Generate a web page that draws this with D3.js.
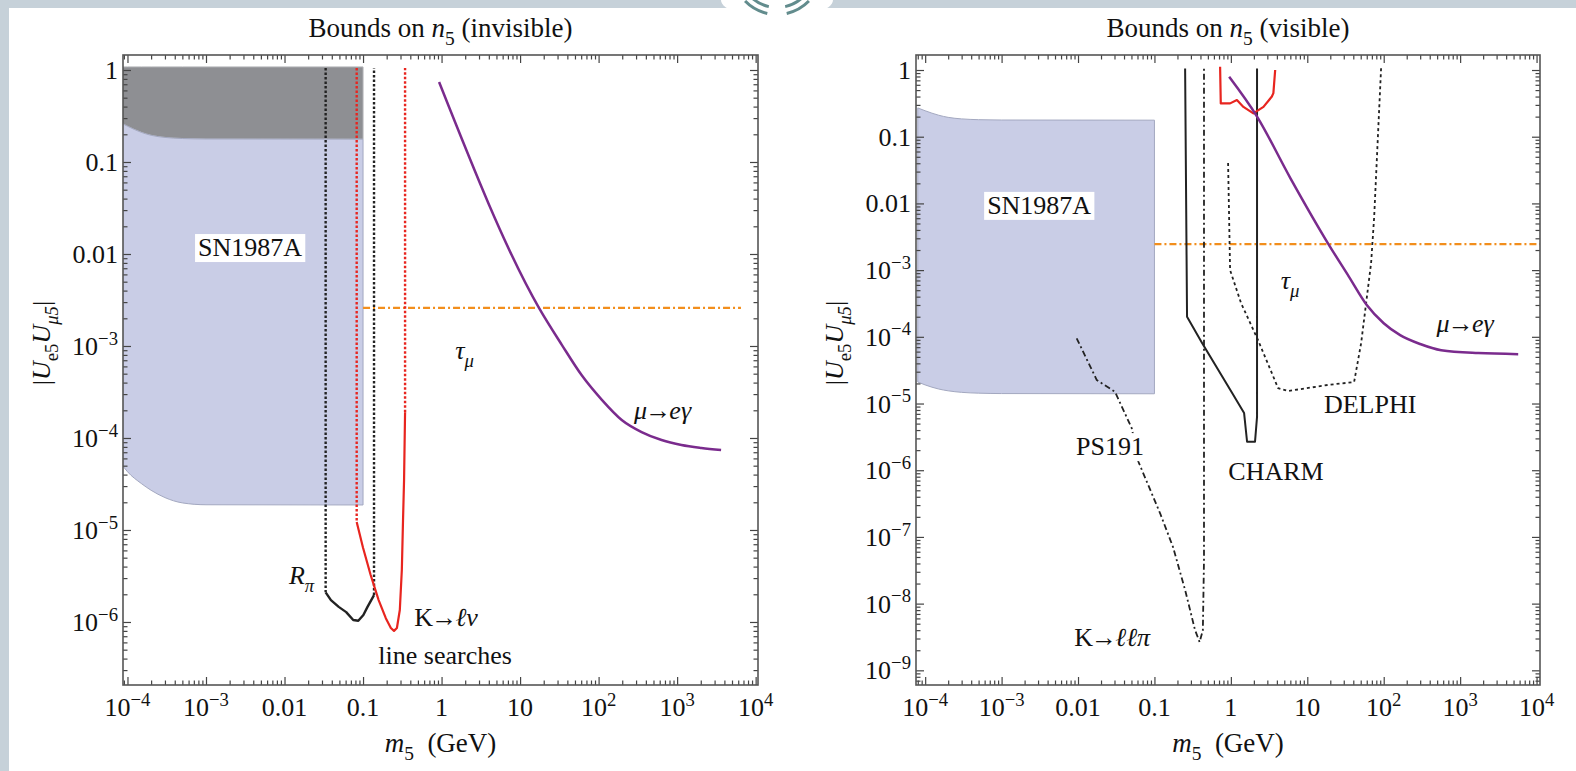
<!DOCTYPE html>
<html>
<head>
<meta charset="utf-8">
<script src="https://cdn.jsdelivr.net/npm/d3@7"></script>
<style>
  body { margin: 0; background: #fff; }
  svg text { font-family: "Liberation Serif", "DejaVu Serif", serif; fill: #111; }
</style>
</head>
<body>
<div id="chart"></div>
<script>
// ---- tick labels ----
var xTickValues = [1e-4, 1e-3, 0.01, 0.1, 1, 10, 100, 1000, 10000];
var xTickText = ["10^−4", "10^−3", "0.01", "0.1", "1", "10", "10^2", "10^3", "10^4"];
var yTickLeft = [1, 0.1, 0.01, 1e-3, 1e-4, 1e-5, 1e-6];
var yTextLeft = ["1", "0.1", "0.01", "10^−3", "10^−4", "10^−5", "10^−6"];
var yTickRight = [1, 0.1, 0.01, 1e-3, 1e-4, 1e-5, 1e-6, 1e-7, 1e-8, 1e-9];
var yTextRight = ["1", "0.1", "0.01", "10^−3", "10^−4", "10^−5", "10^−6", "10^−7", "10^−8", "10^−9"];

// ---- SN1987A band ----
var snMass = [8e-5, 1e-4, 1.5e-4, 2e-4, 3e-4, 5e-4, 1e-3, 0.1];
var snUpper = [0.27, 0.245, 0.21, 0.195, 0.185, 0.18, 0.178, 0.177];
var snLowerLeft = [5.5e-5, 4.3e-5, 3.2e-5, 2.7e-5, 2.25e-5, 1.97e-5, 1.88e-5, 1.87e-5];
var snLowerRight = [2.1e-5, 1.9e-5, 1.65e-5, 1.55e-5, 1.47e-5, 1.43e-5, 1.41e-5, 1.4e-5];
var grayTop = 1.08;

// ---- left panel (invisible) ----
var rpiLeftDotM = [0.0334, 0.0334], rpiLeftDotU = [1.05, 2.1e-6];
var rpiRightDotM = [0.138, 0.138], rpiRightDotU = [1.96e-6, 1.05];
var rpiM = [0.0334, 0.039, 0.049, 0.061, 0.075, 0.087, 0.101, 0.114, 0.138];
var rpiU = [2.1e-6, 1.73e-6, 1.46e-6, 1.28e-6, 1.05e-6, 1.03e-6, 1.19e-6, 1.46e-6, 1.96e-6];
var klnLeftDotM = [0.083, 0.083], klnLeftDotU = [1.05, 1.22e-5];
var klnRightDotM = [0.343, 0.343], klnRightDotU = [1.9e-4, 1.05];
var klnM = [0.083, 0.1, 0.125, 0.158, 0.195, 0.226, 0.248, 0.27, 0.294, 0.312, 0.323, 0.333, 0.343];
var klnU = [1.22e-5, 6.4e-6, 3.24e-6, 1.73e-6, 1.1e-6, 8.6e-7, 8e-7, 8.6e-7, 1.35e-6, 3.7e-6, 1.28e-5, 3.5e-5, 1.9e-4];
var megLeftM = [0.93, 17.4, 34, 61, 110, 197, 353, 634, 1135, 2037, 3630];
var megLeftU = [0.74, 2.6e-3, 1.03e-3, 4.8e-4, 2.6e-4, 1.57e-4, 1.16e-4, 9.5e-5, 8.4e-5, 7.8e-5, 7.4e-5];
var tauLeftM = [0.1, 6500], tauLeftU = [2.6e-3, 2.6e-3];

// ---- right panel (visible) ----
var charmM = [0.252, 0.267, 0.42, 1.04, 1.49, 1.63, 2.07, 2.2, 2.2];
var charmU = [1.05, 2e-4, 8.1e-5, 1.44e-5, 7.2e-6, 2.67e-6, 2.67e-6, 6.3e-6, 1.05];
var delphiM = [0.92, 0.977, 1.36, 2.27, 4.15, 5.61, 18.7, 41, 50.7, 68.4, 75, 92.5];
var delphiU = [0.0403, 1e-3, 3.2e-4, 8.9e-5, 1.7e-5, 1.54e-5, 1.9e-5, 2.1e-5, 8.1e-5, 1.28e-3, 6.25e-3, 1.1];
var redTopM = [0.723, 0.738, 0.977, 1.2, 1.46, 1.97, 2.67, 3.44, 3.6, 3.8];
var redTopU = [1.12, 0.316, 0.316, 0.355, 0.28, 0.224, 0.28, 0.4, 0.45, 1.0];
var psKM = [0.0096, 0.0176, 0.0305, 0.0505, 0.0617, 0.1186, 0.175, 0.252, 0.34, 0.39, 0.43, 0.445, 0.445, 0.445];
var psKU = [9.5e-5, 2.25e-5, 1.5e-5, 4.25e-6, 1.34e-6, 2.26e-7, 7.06e-8, 1.6e-8, 4e-9, 2.65e-9, 4e-9, 4.5e-8, 1e-4, 1.1];
var megRightM = [0.95, 2.2, 6, 18.9, 35, 60, 100, 164, 300, 565, 1722, 5750];
var megRightU = [0.79, 0.2, 0.024, 2.46e-3, 8e-4, 3e-4, 1.6e-4, 1.06e-4, 7.8e-5, 6.3e-5, 5.7e-5, 5.5e-5];
var tauRightM = [0.1, 12000], tauRightU = [2.46e-3, 2.46e-3];

// label anchors (data coords)
var labelsLeft = [
  { m: 3.64e-3, u: 0.0119, parts: [{ t: "SN1987A" }], box: true },
  { m: 0.0165, u: 3.24e-6, parts: [{ t: "R", i: 1 }, { t: "π", i: 1, sub: 1 }] },
  { m: 1.14, u: 1.13e-6, parts: [{ t: "K" }, { t: "→", tight: 1 }, { t: "ℓν", i: 1, tight: 1 }] },
  { m: 1.11, u: 4.4e-7, parts: [{ t: "line searches" }] },
  { m: 1.96, u: 9.05e-4, parts: [{ t: "τ", i: 1 }, { t: "μ", i: 1, sub: 1 }] },
  { m: 652, u: 2e-4, parts: [{ t: "μ", i: 1 }, { t: "→", tight: 1 }, { t: "eγ", i: 1, tight: 1 }] }
];
var labelsRight = [
  { m: 3.1e-3, u: 9.5e-3, parts: [{ t: "SN1987A" }], box: true },
  { m: 5.96, u: 7.1e-4, parts: [{ t: "τ", i: 1 }, { t: "μ", i: 1, sub: 1 }] },
  { m: 1164, u: 1.6e-4, parts: [{ t: "μ", i: 1 }, { t: "→", tight: 1 }, { t: "eγ", i: 1, tight: 1 }] },
  { m: 66.4, u: 9.8e-6, parts: [{ t: "DELPHI" }] },
  { m: 3.9, u: 9.7e-7, parts: [{ t: "CHARM" }] },
  { m: 0.0262, u: 2.3e-6, parts: [{ t: "PS191" }], box: true },
  { m: 0.0279, u: 3.2e-9, parts: [{ t: "K" }, { t: "→", tight: 1 }, { t: "ℓℓπ", i: 1, tight: 1 }] }
];

var W = 1576, H = 771;
var svg = d3.select("#chart").append("svg").attr("width", W).attr("height", H);
svg.append("rect").attr("width", W).attr("height", H).attr("fill", "#fff");

// page border strips + ornament
var band = "#c6d1d9";
svg.append("rect").attr("x", 0).attr("y", 0).attr("width", W).attr("height", 8).attr("fill", band);
svg.append("rect").attr("x", 0).attr("y", 0).attr("width", 9).attr("height", H).attr("fill", band);
svg.append("ellipse").attr("cx", 777).attr("cy", 0).attr("rx", 56).attr("ry", 18).attr("fill", "#fff");
var orn = svg.append("g").attr("transform", "translate(777,-30)");
[[36, 39], [43, 46]].forEach(function (r) {
  [[Math.PI + 0.22, Math.PI + 0.8], [Math.PI - 0.8, Math.PI - 0.22]].forEach(function (a) {
    orn.append("path")
      .attr("d", d3.arc().innerRadius(r[0]).outerRadius(r[1]).startAngle(a[0]).endAngle(a[1])())
      .attr("fill", "#628c8d");
  });
});

function richText(g, x, y, parts, size, anchor) {
  var t = g.append("text").attr("x", x).attr("y", y)
    .attr("font-size", size).attr("text-anchor", anchor || "middle");
  var shift = 0;
  parts.forEach(function (p) {
    var s = t.append("tspan").text(p.t);
    if (p.i) s.attr("font-style", "italic");
    if (p.tight) s.attr("dx", -size * 0.07);
    var target = p.sub ? size * 0.3 : p.sup ? -size * 0.4 : 0;
    if (target !== shift) { s.attr("dy", target - shift); shift = target; }
    if (p.sub || p.sup) s.attr("font-size", size * 0.72);
  });
  return t;
}
function tickParts(s) {
  var p = s.split("^");
  return p.length > 1 ? [{ t: p[0] }, { t: p[1], sup: 1 }] : [{ t: p[0] }];
}
function minorTicks(lo, hi) {
  var out = [];
  for (var d = -10; d <= 5; d++) for (var k = 2; k <= 9; k++) {
    var v = k * Math.pow(10, d);
    if (v > lo && v < hi) out.push(v);
  }
  return out;
}

function panel(o) {
  var g = svg.append("g");
  var x = d3.scaleLog().domain(o.xDomain).range([o.left, o.right]);
  var y = d3.scaleLog().domain(o.yDomain).range([o.bottom, o.top]);
  var id = "clip" + o.left;
  svg.append("clipPath").attr("id", id).append("rect")
    .attr("x", o.left).attr("y", o.top).attr("width", o.right - o.left).attr("height", o.bottom - o.top);
  var plot = g.append("g").attr("clip-path", "url(#" + id + ")");

  // regions
  var area = d3.area().x(function (d) { return x(d[0]); })
    .y0(function (d) { return y(d[1]); }).y1(function (d) { return y(d[2]); })
    .curve(d3.curveMonotoneX);
  if (o.gray) {
    plot.append("path")
      .datum(snMass.map(function (m, i) { return [m, snUpper[i], grayTop]; }))
      .attr("d", area).attr("fill", "#8e8f93").attr("stroke", "#b4b5b8").attr("stroke-width", 1);
  }
  plot.append("path")
    .datum(snMass.map(function (m, i) { return [m, o.snLower[i], snUpper[i]]; }))
    .attr("d", area).attr("fill", "#c9cde6").attr("stroke", "#a3a8c0").attr("stroke-width", 1);

  var line = d3.line().x(function (d) { return x(d[0]); }).y(function (d) { return y(d[1]); });
  o.curves.forEach(function (c) {
    plot.append("path")
      .datum(c.m.map(function (m, i) { return [m, c.u[i]]; }))
      .attr("d", line.curve(c.smooth ? d3.curveMonotoneX : d3.curveLinear))
      .attr("fill", "none").attr("stroke", c.color).attr("stroke-width", c.w)
      .attr("stroke-dasharray", c.dash || null).attr("stroke-linejoin", "round");
  });

  // labels
  o.labels.forEach(function (l) {
    var t = richText(plot, x(l.m), y(l.u) + 9, l.parts, 26);
    if (l.box) {
      var b = t.node().getBBox();
      plot.insert("rect", function () { return t.node(); })
        .attr("x", b.x - 3).attr("y", b.y + 1).attr("width", b.width + 6).attr("height", b.height - 1)
        .attr("fill", "#fff");
    }
  });

  // ticks on all four sides, inward
  var xm = minorTicks(o.xDomain[0], o.xDomain[1]);
  var ym = minorTicks(o.yDomain[0], o.yDomain[1]);
  function ax(axis, vals, size, tr) {
    g.append("g").attr("transform", tr)
      .call(axis.tickValues(vals).tickSize(-size).tickFormat(""))
      .call(function (s) { s.select(".domain").remove(); s.selectAll("line").attr("stroke", "#444").attr("stroke-width", 1.2); });
  }
  [[xm, 4.5], [xTickValues, 8]].forEach(function (v) {
    ax(d3.axisBottom(x), v[0], v[1], "translate(0," + o.bottom + ")");
    ax(d3.axisTop(x), v[0], v[1], "translate(0," + o.top + ")");
  });
  [[ym, 4.5], [o.yTicks, 8]].forEach(function (v) {
    ax(d3.axisLeft(y), v[0], v[1], "translate(" + o.left + ",0)");
    ax(d3.axisRight(y), v[0], v[1], "translate(" + o.right + ",0)");
  });
  g.append("rect").attr("x", o.left).attr("y", o.top)
    .attr("width", o.right - o.left).attr("height", o.bottom - o.top)
    .attr("fill", "none").attr("stroke", "#555").attr("stroke-width", 1.6);

  xTickValues.forEach(function (v, i) {
    richText(g, x(v), o.bottom + 31, tickParts(xTickText[i]), 26);
  });
  o.yTicks.forEach(function (v, i) {
    richText(g, o.left - 5, y(v) + 9, tickParts(o.yText[i]), 26, "end");
  });

  var cx = (o.left + o.right) / 2;
  richText(g, cx, 37, [{ t: "Bounds on " }, { t: "n", i: 1 }, { t: "5", sub: 1 }, { t: " (" + o.kind + ")" }], 27);
  richText(g, cx, 752, [{ t: "m", i: 1 }, { t: "5", sub: 1 }, { t: "\u00a0\u00a0(GeV)" }], 27);
  var yl = g.append("g").attr("transform", "translate(" + (o.left - 73) + "," + 343 + ") rotate(-90)");
  richText(yl, 0, 0, [{ t: "|" }, { t: "U", i: 1 }, { t: "e5", sub: 1 }, { t: "U", i: 1 }, { t: "μ5", sub: 1, i: 1 }, { t: "|" }], 26);
}

var black = "#222", red = "#e8251f", purple = "#7a2b8d", orange = "#f28e1c";

panel({
  kind: "invisible", left: 123, right: 758, top: 55, bottom: 685,
  xDomain: [Math.pow(10, -4.057), Math.pow(10, 4.03)], yDomain: [Math.pow(10, -6.685), Math.pow(10, 0.163)],
  yTicks: yTickLeft, yText: yTextLeft, gray: true, labels: labelsLeft, snLower: snLowerLeft,
  curves: [
    { m: tauLeftM, u: tauLeftU, color: orange, w: 2.2, dash: "7,3,2,3" },
    { m: rpiLeftDotM, u: rpiLeftDotU, color: black, w: 2.4, dash: "2.5,2" },
    { m: rpiRightDotM, u: rpiRightDotU, color: black, w: 2.4, dash: "2.5,2" },
    { m: rpiM, u: rpiU, color: black, w: 2.4 },
    { m: klnLeftDotM, u: klnLeftDotU, color: red, w: 2.4, dash: "2.5,2" },
    { m: klnRightDotM, u: klnRightDotU, color: red, w: 2.4, dash: "2.5,2" },
    { m: klnM, u: klnU, color: red, w: 2.2 },
    { m: megLeftM, u: megLeftU, color: purple, w: 2.5, smooth: true }
  ]
});

panel({
  kind: "visible", left: 916, right: 1540, top: 55, bottom: 685,
  xDomain: [Math.pow(10, -4.12), Math.pow(10, 4.045)], yDomain: [Math.pow(10, -9.22), Math.pow(10, 0.225)],
  yTicks: yTickRight, yText: yTextRight, gray: false, labels: labelsRight, snLower: snLowerRight,
  curves: [
    { m: tauRightM, u: tauRightU, color: orange, w: 2.2, dash: "7,3,2,3" },
    { m: psKM, u: psKU, color: black, w: 1.8, dash: "6,3,2,3" },
    { m: charmM, u: charmU, color: black, w: 2 },
    { m: delphiM, u: delphiU, color: black, w: 1.8, dash: "3,3" },
    { m: redTopM, u: redTopU, color: red, w: 2.2 },
    { m: megRightM, u: megRightU, color: purple, w: 2.5, smooth: true }
  ]
});
</script>
</body>
</html>
